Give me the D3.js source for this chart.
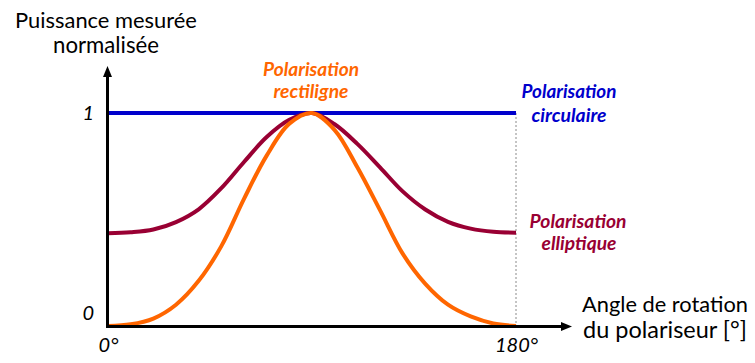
<!DOCTYPE html>
<html>
<head>
<meta charset="utf-8">
<script src="https://cdn.jsdelivr.net/npm/d3@7"></script>
<style>
  html, body { margin: 0; padding: 0; background: #fff; }
  svg { display: block; font-family: Lato, "Open Sans", sans-serif; }
</style>
</head>
<body>
<svg id="chart" width="755" height="363"></svg>
<script>
// Polariser angle (degrees)
const angles = [0, 10, 20, 30, 40, 50, 60, 70, 80, 90, 100, 110, 120, 130, 140, 150, 160, 170, 180];
// Normalised measured power for each polarisation state
const rectiligne = [0, 0.008, 0.035, 0.10, 0.212, 0.375, 0.597, 0.80, 0.95, 1.0, 0.92, 0.745, 0.544, 0.34, 0.198, 0.10, 0.045, 0.012, 0];
const elliptique = [0.435, 0.44, 0.453, 0.488, 0.548, 0.647, 0.77, 0.887, 0.968, 1.0, 0.947, 0.855, 0.745, 0.632, 0.547, 0.489, 0.457, 0.442, 0.438];
const circulaire = [1, 1, 1, 1, 1, 1, 1, 1, 1, 1, 1, 1, 1, 1, 1, 1, 1, 1, 1];

const xTicks = [0, 180];
const xTickLabels = ["0°", "180°"];
const yTicks = [0, 1];
const yTickLabels = ["0", "1"];

const svg = d3.select("#chart");

const x = d3.scaleLinear().domain([0, 180]).range([108, 516]);
const y = d3.scaleLinear().domain([0, 1]).range([326, 113]);

const colors = { circ: "#0000cc", rect: "#ff6600", ell: "#990033" };

// dotted guide at 180°
svg.append("line")
  .attr("x1", x(180)).attr("x2", x(180))
  .attr("y1", y(1)).attr("y2", y(0))
  .attr("stroke", "#8a8a8a").attr("stroke-width", 1)
  .attr("stroke-dasharray", "2,2");

const line = d3.line()
  .x((d, i) => x(angles[i]))
  .y(d => y(d))
  .curve(d3.curveCatmullRom.alpha(0.5));

svg.append("path").datum(circulaire).attr("d", line)
  .attr("fill", "none").attr("stroke", colors.circ).attr("stroke-width", 4);
svg.append("path").datum(elliptique).attr("d", line)
  .attr("fill", "none").attr("stroke", colors.ell).attr("stroke-width", 4);
svg.append("path").datum(rectiligne).attr("d", line)
  .attr("fill", "none").attr("stroke", colors.rect).attr("stroke-width", 4);

// axes with arrow heads
const axisG = svg.append("g");
axisG.append("line")
  .attr("x1", 107.5).attr("x2", 107.5)
  .attr("y1", 327.5).attr("y2", 76)
  .attr("stroke", "#000").attr("stroke-width", 3);
axisG.append("path")
  .attr("d", "M107.5,66 L103,77 L112,77 Z").attr("fill", "#000");
axisG.append("line")
  .attr("x1", 106).attr("x2", 562)
  .attr("y1", 326.5).attr("y2", 326.5)
  .attr("stroke", "#000").attr("stroke-width", 3);
axisG.append("path")
  .attr("d", "M572,326.5 L561,322 L561,331 Z").attr("fill", "#000");

// tick labels via d3 axes
const xAxis = d3.axisBottom(x).tickValues(xTicks)
  .tickFormat((d, i) => xTickLabels[i]).tickSize(0).tickPadding(12);
const gx = svg.append("g").attr("transform", "translate(0,326)").call(xAxis);
gx.select(".domain").remove();
gx.selectAll("text")
  .attr("font-family", "Lato, sans-serif").attr("font-style", "italic")
  .attr("font-size", 20).attr("fill", "#000");

const yAxis = d3.axisLeft(y).tickValues(yTicks)
  .tickFormat((d, i) => yTickLabels[i]).tickSize(0).tickPadding(13);
const gy = svg.append("g").attr("transform", "translate(107,0)").call(yAxis);
gy.select(".domain").remove();
gy.selectAll("text")
  .attr("font-family", "Lato, sans-serif").attr("font-style", "italic")
  .attr("font-size", 20).attr("fill", "#000")
  .attr("dy", d => d === 0 ? "-0.35em" : "0.32em");

// titles and series labels
function label(txt, cx, by, size, opts = {}) {
  const t = svg.append("text")
    .attr("x", cx).attr("y", by)
    .attr("text-anchor", "middle")
    .attr("font-size", size)
    .attr("fill", opts.color || "#000")
    .attr("font-weight", opts.bold ? 700 : 400)
    .attr("font-style", opts.italic ? "italic" : "normal")
    .text(txt);
  if (opts.width) {
    const w = t.node().getComputedTextLength();
    t.attr("font-size", size * opts.width / w);
  }
  return t;
}

label("Puissance mesurée", 106, 28, 20, { width: 182 });
label("normalisée", 106, 53, 20, { width: 106 });
label("Angle de rotation", 665, 312, 20, { width: 166 });
label("du polariseur [°]", 665, 338, 20, { width: 164 });

label("Polarisation", 311, 76, 17, { color: colors.rect, bold: true, italic: true, width: 96 });
label("rectiligne", 311, 98, 17, { color: colors.rect, bold: true, italic: true, width: 75 });
label("Polarisation", 569, 98, 17, { color: colors.circ, bold: true, italic: true, width: 95 });
label("circulaire", 569, 122, 17, { color: colors.circ, bold: true, italic: true, width: 75 });
label("Polarisation", 578, 228, 17, { color: colors.ell, bold: true, italic: true, width: 97 });
label("elliptique", 579, 250, 17, { color: colors.ell, bold: true, italic: true, width: 75 });
</script>
</body>
</html>
